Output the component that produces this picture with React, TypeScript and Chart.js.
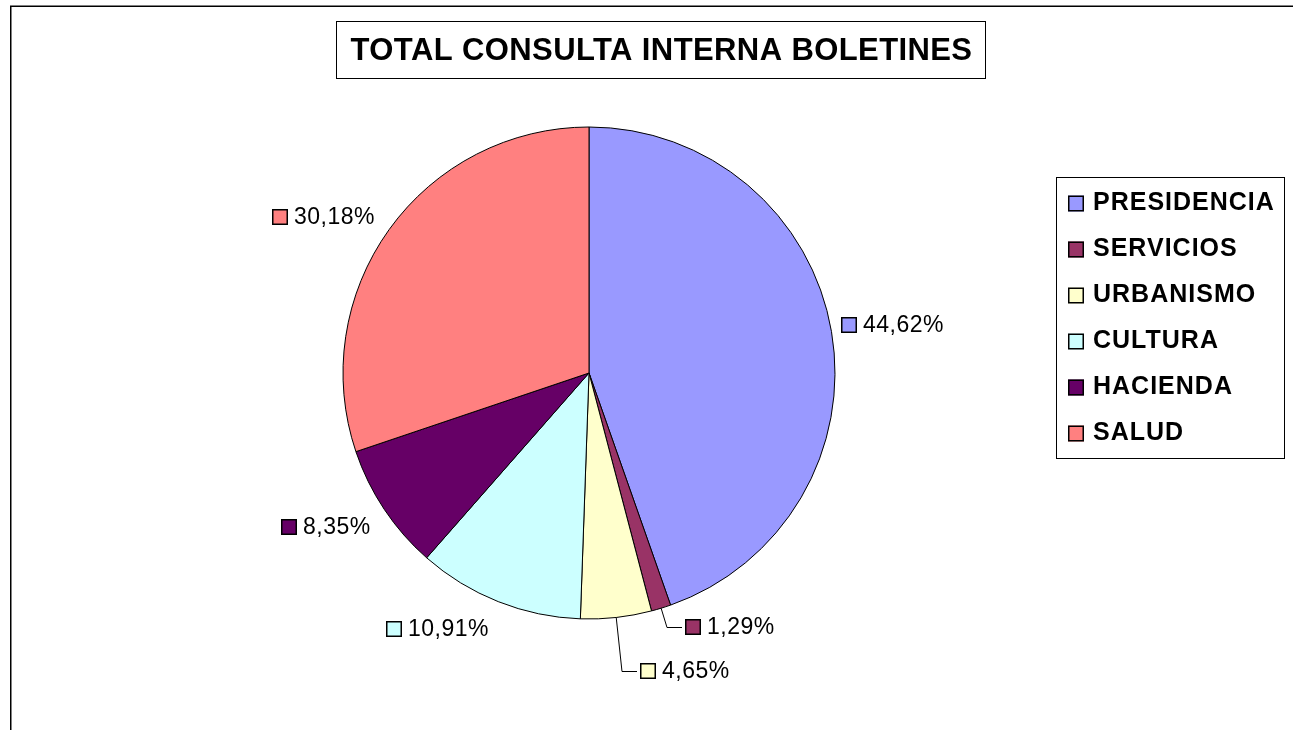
import React, { useEffect, useRef } from "react";
import { Chart, registerables } from "chart.js";

Chart.register(...registerables);

const categories = ["PRESIDENCIA", "SERVICIOS", "URBANISMO", "CULTURA", "HACIENDA", "SALUD"];
const percentages = [44.62, 1.29, 4.65, 10.91, 8.35, 30.18];
const sliceColors = ["#9999FF", "#993366", "#FFFFCC", "#CCFFFF", "#660066", "#FF8080"];
const titleText = "TOTAL CONSULTA INTERNA BOLETINES";

// layout tweaks for data labels (offset from the radial anchor, px)
const labelNudges: number[][] = [[12, 2], [54, -29], [63, 4], [-42, -19], [-17, -10], [-25, 17]];
const labelHasLeader = [false, true, true, false, false, false];

const FONT = '"Liberation Sans", Arial, sans-serif';

const fmt = (v: number) => v.toFixed(2).replace(".", ",") + "%";

const decorPlugin = {
  id: "decor",
  afterDraw(chart: any) {
    const ctx: CanvasRenderingContext2D = chart.ctx;
    ctx.save();
    // outer frame
    ctx.strokeStyle = "#000";
    ctx.lineWidth = 1.5;
    ctx.strokeRect(10.75, 6.25, 1400, 1000);

    // title box
    ctx.lineWidth = 1;
    ctx.strokeRect(336.5, 21.5, 649, 57);
    ctx.fillStyle = "#000";
    ctx.font = `bold 31px ${FONT}`;
    (ctx as any).letterSpacing = "0.4px";
    ctx.textAlign = "center";
    ctx.textBaseline = "middle";
    ctx.fillText(titleText, 661.5, 51);

    // legend
    ctx.strokeRect(1056.5, 177.5, 228, 281);
    ctx.font = `bold 25px ${FONT}`;
    (ctx as any).letterSpacing = "1px";
    ctx.textAlign = "left";
    const labels: string[] = chart.data.labels;
    const colors: string[] = chart.data.datasets[0].backgroundColor;
    labels.forEach((lab, i) => {
      const cy = 203.5 + i * 46;
      ctx.fillStyle = colors[i];
      ctx.fillRect(1068, cy - 8, 16, 16);
      ctx.strokeStyle = "#000";
      ctx.lineWidth = 1.5;
      ctx.strokeRect(1068.75, cy - 7.25, 14.5, 14.5);
      ctx.lineWidth = 1;
      ctx.fillStyle = "#000";
      ctx.fillText(lab, 1093, cy);
    });

    // data labels
    const meta = chart.getDatasetMeta(0);
    const data: number[] = chart.data.datasets[0].data;
    ctx.font = `23px ${FONT}`;
    (ctx as any).letterSpacing = "0.5px";
    meta.data.forEach((arc: any, i: number) => {
      const p = arc.getProps(["x", "y", "startAngle", "endAngle", "outerRadius"], true);
      const mid = (p.startAngle + p.endAngle) / 2;
      const cx0 = p.x + Math.cos(mid) * (p.outerRadius + 50);
      const cy0 = p.y + Math.sin(mid) * (p.outerRadius + 50);
      const cx = cx0 + labelNudges[i][0];
      const cy = cy0 + labelNudges[i][1];
      const text = fmt(data[i]);
      const tw = ctx.measureText(text).width;
      const total = 16 + 6 + tw;
      const left = Math.round(cx - total / 2);
      const top = Math.round(cy - 8);
      if (labelHasLeader[i]) {
        const ex = p.x + Math.cos(mid) * p.outerRadius;
        const ey = p.y + Math.sin(mid) * p.outerRadius;
        ctx.strokeStyle = "#000";
        ctx.lineWidth = 1;
        ctx.beginPath();
        ctx.moveTo(ex, ey);
        ctx.lineTo(left - 18, top + 8.5);
        ctx.lineTo(left - 3, top + 8.5);
        ctx.stroke();
      }
      ctx.fillStyle = colors[i];
      ctx.fillRect(left, top, 16, 16);
      ctx.strokeStyle = "#000";
      ctx.lineWidth = 1.5;
      ctx.strokeRect(left + 0.75, top + 0.75, 14.5, 14.5);
      ctx.lineWidth = 1;
      ctx.fillStyle = "#000";
      ctx.textAlign = "left";
      ctx.textBaseline = "middle";
      ctx.fillText(text, left + 22, top + 9);
    });
    ctx.restore();
  },
};

export default function App() {
  const ref = useRef<HTMLCanvasElement>(null);
  useEffect(() => {
    if (!ref.current) return;
    const chart = new Chart(ref.current, {
      type: "pie",
      data: {
        labels: categories,
        datasets: [
          {
            data: percentages,
            backgroundColor: sliceColors,
            borderColor: "#000",
            borderWidth: 1,
          },
        ],
      },
      options: {
        responsive: false,
        animation: false,
        radius: 246,
        layout: { padding: { left: 300, right: 415, top: 100, bottom: 84 } },
        plugins: {
          legend: { display: false },
          title: { display: false },
          tooltip: { enabled: false },
        },
      } as any,
      plugins: [decorPlugin],
    });
    return () => chart.destroy();
  }, []);
  return (
    <div style={{ position: "fixed", left: 0, top: 0, width: 1293, height: 730, background: "#fff" }}>
      <canvas ref={ref} width={1293} height={730} style={{ width: 1293, height: 730, display: "block" }} />
    </div>
  );
}
